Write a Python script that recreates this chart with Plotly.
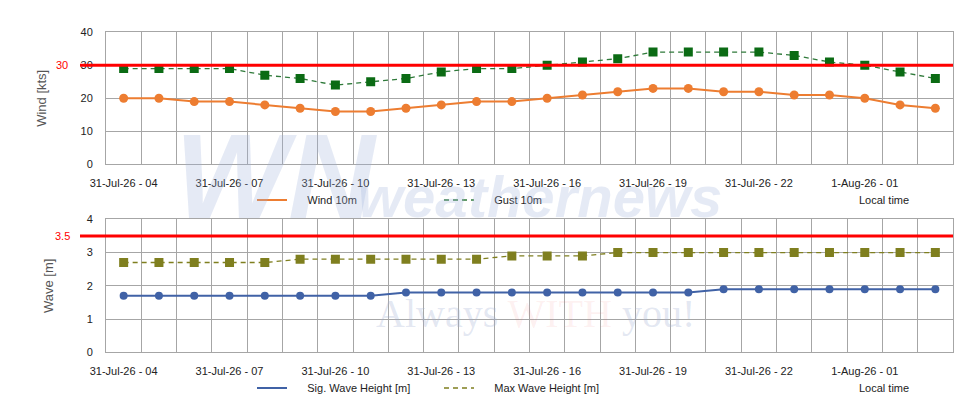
import plotly.graph_objects as go

# ---- data ----
times = ["31-Jul-26 - %02d" % h for h in range(4, 24)] + ["1-Aug-26 - %02d" % h for h in range(0, 4)]
label_times = ["31-Jul-26 - 04", "31-Jul-26 - 07", "31-Jul-26 - 10", "31-Jul-26 - 13",
               "31-Jul-26 - 16", "31-Jul-26 - 19", "31-Jul-26 - 22", "1-Aug-26 - 01"]
wind_10m = [20, 20, 19, 19, 18, 17, 16, 16, 17, 18, 19, 19,
            20, 21, 22, 23, 23, 22, 22, 21, 21, 20, 18, 17]
gust_10m = [29, 29, 29, 29, 27, 26, 24, 25, 26, 28, 29, 29,
            30, 31, 32, 34, 34, 34, 34, 33, 31, 30, 28, 26]
sig_wave = [1.7, 1.7, 1.7, 1.7, 1.7, 1.7, 1.7, 1.7, 1.8, 1.8, 1.8, 1.8,
            1.8, 1.8, 1.8, 1.8, 1.8, 1.9, 1.9, 1.9, 1.9, 1.9, 1.9, 1.9]
max_wave = [2.7, 2.7, 2.7, 2.7, 2.7, 2.8, 2.8, 2.8, 2.8, 2.8, 2.8, 2.9,
            2.9, 2.9, 3.0, 3.0, 3.0, 3.0, 3.0, 3.0, 3.0, 3.0, 3.0, 3.0]
wind_limit = 30
wave_limit = 3.5

tick_text = [t if t in label_times else "" for t in times]

FONT = "Arial, Liberation Sans, sans-serif"
GRID = "#a6a6a6"
ORANGE = "#ed7d31"
GREEN = "#0b6b14"
GREEN_LINE = "#2f7a3a"
BLUE = "#4062a6"
OLIVE = "#7f7f1f"

# page has an 8px body margin: work in reference pixels, converted here
W, H = 972, 412
OFF = 8


def px(x):
    return (x - OFF) / W


def py(y):
    return 1 - (y - OFF) / H


fig = go.Figure()

# data traces
fig.add_trace(go.Scatter(x=times, y=wind_10m, mode="lines+markers", xaxis="x", yaxis="y",
                         line=dict(color=ORANGE, width=2), marker=dict(color=ORANGE, size=9, symbol="circle"),
                         showlegend=False))
fig.add_trace(go.Scatter(x=times, y=gust_10m, mode="lines+markers", xaxis="x", yaxis="y",
                         line=dict(color=GREEN_LINE, width=1.3, dash="5px,4px"),
                         marker=dict(color=GREEN, size=9, symbol="square"), showlegend=False))
fig.add_trace(go.Scatter(x=times, y=sig_wave, mode="lines+markers", xaxis="x2", yaxis="y2",
                         line=dict(color=BLUE, width=2), marker=dict(color=BLUE, size=8, symbol="circle"),
                         showlegend=False))
fig.add_trace(go.Scatter(x=times, y=max_wave, mode="lines+markers", xaxis="x2", yaxis="y2",
                         line=dict(color=OLIVE, width=1.3, dash="5px,4px"),
                         marker=dict(color=OLIVE, size=9, symbol="square"), showlegend=False))

# legend-only entries (line samples)
sp = "&nbsp;" * 5
fig.add_trace(go.Scatter(x=[None], y=[None], mode="lines", name=sp + "Wind 10m", legend="legend",
                         line=dict(color=ORANGE, width=2), xaxis="x", yaxis="y"))
fig.add_trace(go.Scatter(x=[None], y=[None], mode="lines", name=sp + "Gust 10m", legend="legend",
                         line=dict(color=GREEN_LINE, width=1.5, dash="5px,4px"), xaxis="x", yaxis="y"))
fig.add_trace(go.Scatter(x=[None], y=[None], mode="lines", name=sp + "Sig. Wave Height [m]", legend="legend2",
                         line=dict(color=BLUE, width=2), xaxis="x2", yaxis="y2"))
fig.add_trace(go.Scatter(x=[None], y=[None], mode="lines", name=sp + "Max Wave Height [m]", legend="legend2",
                         line=dict(color=OLIVE, width=1.5, dash="5px,4px"), xaxis="x2", yaxis="y2"))

xdom = [px(106), px(953)]
y1dom = [py(164.3), py(32.3)]
y2dom = [py(352.3), py(219.3)]
plot_w = 953 - 106

xcommon = dict(type="category", categoryorder="array", categoryarray=times,
               tickmode="array", tickvals=times, ticktext=tick_text, tickson="boundaries",
               showgrid=True, gridcolor=GRID, gridwidth=1, showline=True, linecolor=GRID, linewidth=1,
               mirror=True, ticks="", ticklabelstandoff=8, tickangle=0, automargin=False,
               tickfont=dict(family=FONT, size=11, color="#222"), domain=xdom,
               range=[-0.5, len(times) - 0.5], zeroline=False)
ycommon = dict(showgrid=True, gridcolor=GRID, gridwidth=1, showline=True, linecolor=GRID, linewidth=1,
               mirror=True, ticks="", ticklabelstandoff=10, zeroline=False, automargin=False,
               tickfont=dict(family=FONT, size=11, color="#222"))

fig.update_layout(
    width=W, height=H,
    margin=dict(l=0, r=0, t=0, b=0, autoexpand=False),
    paper_bgcolor="white", plot_bgcolor="white",
    font=dict(family=FONT, size=11, color="#222"),
    xaxis=dict(**xcommon, anchor="y"),
    xaxis2=dict(**xcommon, anchor="y2"),
    yaxis=dict(**ycommon, domain=y1dom, range=[0, 40], dtick=10, anchor="x",
               title=dict(text="Wind [kts]", standoff=30, font=dict(family=FONT, size=13, color="#555"))),
    yaxis2=dict(**ycommon, domain=y2dom, range=[0, 4], dtick=1, anchor="x2",
                title=dict(text="Wave [m]", standoff=30, font=dict(family=FONT, size=13, color="#555"))),
    legend=dict(orientation="h", x=px(252), y=py(200), xanchor="left", yanchor="middle",
                entrywidth=142, font=dict(family=FONT, size=11, color="#222"), bgcolor="rgba(0,0,0,0)"),
    legend2=dict(orientation="h", x=px(252), y=py(388), xanchor="left", yanchor="middle",
                 entrywidth=142, font=dict(family=FONT, size=11, color="#222"), bgcolor="rgba(0,0,0,0)"),
)

# threshold lines
fig.add_shape(type="line", xref="x domain", yref="y", x0=-26 / plot_w, x1=1, y0=wind_limit, y1=wind_limit,
              line=dict(color="#ff0000", width=3))
fig.add_shape(type="line", xref="x2 domain", yref="y2", x0=-26 / plot_w, x1=1, y0=wave_limit, y1=wave_limit,
              line=dict(color="#ff0000", width=3))

annots = [
    dict(text=str(wind_limit), xref="paper", yref="y", x=px(62), y=wind_limit,
         font=dict(family=FONT, size=11, color="#ff0000")),
    dict(text=str(wave_limit), xref="paper", yref="y2", x=px(62), y=wave_limit,
         font=dict(family=FONT, size=11, color="#ff0000")),
    dict(text="Local time", xref="paper", yref="paper", x=px(884), y=py(200),
         font=dict(family=FONT, size=11, color="#222")),
    dict(text="Local time", xref="paper", yref="paper", x=px(884), y=py(388),
         font=dict(family=FONT, size=11, color="#222")),
    # watermark
    dict(text="<b><i>WN</i></b>", xref="paper", yref="paper", x=px(276), y=py(176),
         font=dict(family="Liberation Sans Narrow, Arial", size=120, color="rgba(160,180,220,0.28)")),
    dict(text="<b><i>weathernews</i></b>", xref="paper", yref="paper", x=px(540), y=py(196),
         font=dict(family="Liberation Sans Narrow, Arial", size=58, color="rgba(160,180,220,0.28)")),
    dict(text="Always <span style='color:rgba(235,110,110,0.35)'>WITH</span> you!", xref="paper",
         yref="paper", x=px(535), y=py(313),
         font=dict(family="Liberation Serif, serif", size=40, color="rgba(160,175,210,0.30)")),
]
for a in annots:
    fig.add_annotation(showarrow=False, xanchor="center", yanchor="middle", **a)

fig.write_html("out.html")
